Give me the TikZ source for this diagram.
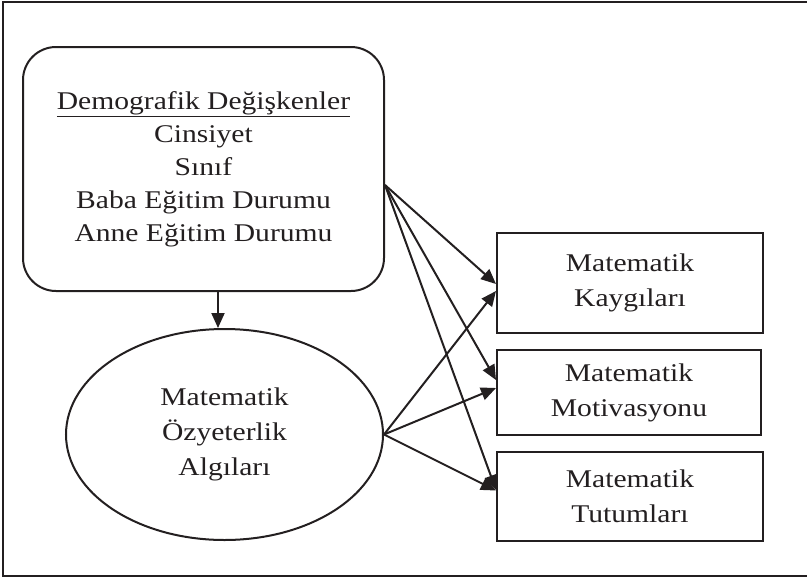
\documentclass[tikz,border=0pt]{standalone}
\usepackage{xcolor}
\definecolor{model-ink}{HTML}{231F20}
\usepackage{fontspec}
\setmainfont{Liberation Serif}[FakeStretch=1.16]
\usepackage{tikz}
\usetikzlibrary{arrows.meta,shapes.geometric}

\tikzset{
    model-line/.style={draw=model-ink, line width=2pt},
    model-arrow/.style={model-line, -{Triangle[length=15pt,width=13pt]}},
    model-text/.style={text=model-ink, align=center, inner sep=0pt,
        font=\fontsize{25.5pt}{35pt}\selectfont},
}

\begin{document}
\begin{tikzpicture}[x=1pt, y=-1pt]

    % Frame
    \useasboundingbox (0, 0) rectangle (807, 579);
    \draw[model-line] (3, 2) rectangle (810, 576);

    % Demographic variables
    \node[model-line, model-text, rounded corners=33pt, minimum width=361pt, minimum height=244pt,
          font=\fontsize{25.5pt}{33pt}\selectfont] (demo) at (203.5, 169)
        {\underline{Demografik Değişkenler}\\Cinsiyet\\Sınıf\\Baba Eğitim Durumu\\Anne Eğitim Durumu};

    % Self-efficacy
    \node[model-line, model-text, ellipse, minimum width=317pt, minimum height=211pt] (selfeff) at (224.5, 434.5)
        {Matematik\\Özyeterlik\\Algıları};

    % Outcomes
    \node[model-line, model-text, minimum width=266pt, minimum height=100pt] (anxiety) at (630, 283)
        {Matematik\\Kaygıları};
    \node[model-line, model-text, minimum width=264pt, minimum height=85pt] (motiv) at (629, 392.5)
        {Matematik\\Motivasyonu};
    \node[model-line, model-text, minimum width=266pt, minimum height=89pt] (attit) at (630, 496.5)
        {Matematik\\Tutumları};

    % Paths
    \coordinate (demo-out) at ([yshift=-16pt]demo.east);
    \coordinate (demo-down) at ([xshift=14.5pt]demo.south);
    \draw[model-arrow] (demo-down) -- (demo-down |- selfeff.north);
    \draw[model-arrow] (demo-out) -- ([yshift=-1pt]anxiety.west);
    \draw[model-arrow] (demo-out) -- ([yshift=12.5pt]motiv.west);
    \draw[model-arrow] (demo-out) -- ([yshift=6.5pt]attit.west);
    \draw[model-arrow] (selfeff.east) -- ([yshift=-8pt]anxiety.west);
    \draw[model-arrow] (selfeff.east) -- ([yshift=4.5pt]motiv.west);
    \draw[model-arrow] (selfeff.east) -- ([yshift=6pt]attit.west);

\end{tikzpicture}
\end{document}
